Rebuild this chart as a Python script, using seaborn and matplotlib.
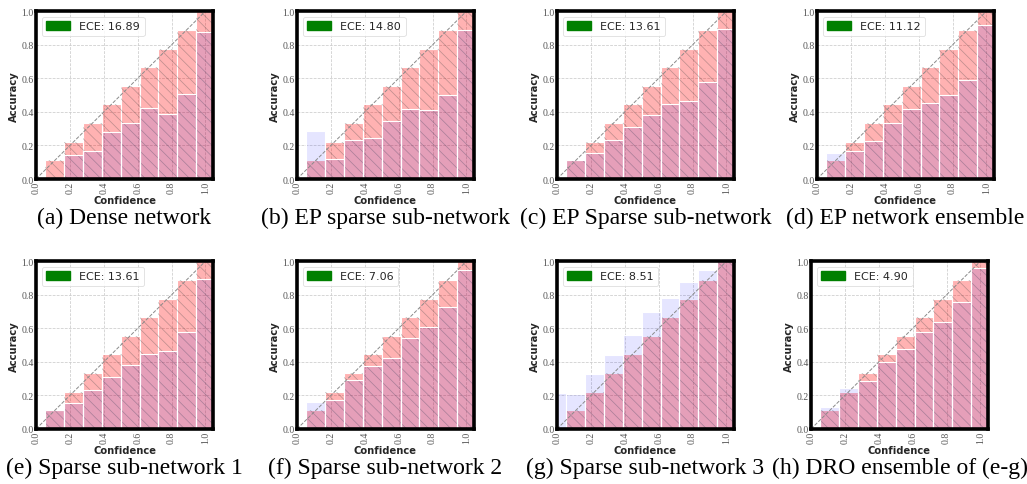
import numpy as np
import pandas as pd
import matplotlib
matplotlib.use("Agg")
import matplotlib.pyplot as plt
from matplotlib.patches import Patch
import seaborn as sns

# ---------------- data ----------------
bin_centers = [0.0, 1/9, 2/9, 3/9, 4/9, 5/9, 6/9, 7/9, 8/9, 1.0]
expected_conf = [0.0, 1/9, 2/9, 3/9, 4/9, 5/9, 6/9, 7/9, 8/9, 1.0]

acc_a = [0.0, 0.0, 0.145, 0.167, 0.282, 0.334, 0.425, 0.390, 0.507, 0.877]
acc_b = [0.0, 0.286, 0.121, 0.235, 0.245, 0.346, 0.417, 0.410, 0.500, 0.890]
acc_c = [0.0, 0.111, 0.155, 0.233, 0.310, 0.382, 0.445, 0.463, 0.578, 0.895]
acc_d = [0.0, 0.153, 0.169, 0.225, 0.336, 0.417, 0.451, 0.500, 0.590, 0.920]
acc_e = [0.0, 0.111, 0.155, 0.233, 0.310, 0.382, 0.445, 0.463, 0.578, 0.895]
acc_f = [0.0, 0.163, 0.173, 0.292, 0.376, 0.425, 0.543, 0.608, 0.728, 0.948]
acc_g = [0.213, 0.209, 0.328, 0.440, 0.559, 0.698, 0.783, 0.879, 0.950, 1.0]
acc_h = [0.0, 0.129, 0.243, 0.288, 0.398, 0.477, 0.578, 0.638, 0.759, 0.960]

ece_values = [16.89, 14.80, 13.61, 11.12, 13.61, 7.06, 8.51, 4.90]
captions = ["(a) Dense network", "(b) EP sparse sub-network",
            "(c) EP Sparse sub-network", "(d) EP network ensemble",
            "(e) Sparse sub-network 1", "(f) Sparse sub-network 2",
            "(g) Sparse sub-network 3", "(h) DRO ensemble of (e-g)"]
accuracies = [acc_a, acc_b, acc_c, acc_d, acc_e, acc_f, acc_g, acc_h]
tick_vals = [0.0, 0.2, 0.4, 0.6, 0.8, 1.0]

# ---------------- style ----------------
sns.set_theme(style="whitegrid")
plt.rcParams.update({
    "grid.color": "#cccccc",
    "grid.linestyle": "--",
    "grid.linewidth": 0.55,
    "hatch.linewidth": 0.55,
    "axes.edgecolor": "black",
})

W, H = 1027, 485
fig = plt.figure(figsize=(W / 100, H / 100), dpi=100)

lefts = [36, 297, 557, 817, 36, 297, 557, 811]
tops = [12.3] * 4 + [262.3] * 4
aw, ah = 177, 167.7

red_rgba = (1.0, 0.0, 0.0, 0.30)
blue_rgba = (0.0, 0.0, 1.0, 0.10)
hatch_rgba = (0.3, 0.3, 0.3, 0.35)


def add_bars(ax, heights, face, edge, lw, hatch=None):
    n0 = len(ax.patches)
    df = pd.DataFrame({"x": bin_centers, "y": heights})
    sns.barplot(data=df, x="x", y="y", native_scale=True, width=1.0,
                errorbar=None, saturation=1, color="red", ax=ax)
    for p in ax.patches[n0:]:
        p.set_facecolor(face)
        p.set_edgecolor(edge)
        p.set_linewidth(lw)
        if hatch:
            p.set_hatch(hatch)
        p.set_zorder(2)


for i in range(8):
    l, t = lefts[i], tops[i]
    ax = fig.add_axes([l / W, (H - t - ah) / H, aw / W, ah / H])
    add_bars(ax, expected_conf, red_rgba, "white", 0.8)
    add_bars(ax, expected_conf, "none", hatch_rgba, 0.0, hatch="\\\\\\")
    add_bars(ax, accuracies[i], blue_rgba, "white", 0.8)
    ax.plot([0, 1], [0, 1], linestyle="--", color="#8a8a8a", linewidth=0.7, zorder=3)

    ax.set_xlim(0, 1.045)
    ax.set_ylim(0, 1.0)
    ax.set_xticks(tick_vals)
    ax.set_yticks(tick_vals)
    ax.set_xticklabels([f"{v:.1f}" for v in tick_vals], rotation=90,
                       family="Liberation Serif", fontsize=7, color="#555555")
    ax.set_yticklabels([f"{v:.1f}" for v in tick_vals],
                       family="Liberation Serif", fontsize=7, color="#555555")
    ax.tick_params(axis="both", length=0, pad=1.5)
    ax.set_axisbelow(True)
    ax.grid(True)
    ax.set_xlabel("Confidence", fontsize=7.2, fontweight="bold",
                  family="DejaVu Sans", labelpad=1)
    ax.set_ylabel("Accuracy", fontsize=7.2, fontweight="bold",
                  family="DejaVu Sans", labelpad=2)
    for s in ax.spines.values():
        s.set_visible(True)
        s.set_color("black")
        s.set_linewidth(2.6)
        s.set_zorder(5)

    leg = ax.legend(handles=[Patch(facecolor="green", edgecolor="green",
                                   label=f"ECE: {ece_values[i]:.2f}")],
                    loc="upper left", handlelength=2.2,
                    handleheight=0.8, frameon=True, fancybox=True,
                    framealpha=0.85, prop={"family": "DejaVu Sans", "size": 8})
    leg.get_frame().set_edgecolor("#d9d9d9")
    leg.get_frame().set_linewidth(0.6)

    cx = (l + aw / 2) / W
    cy = (H - (218.3 if i < 4 else 468.0)) / H
    fig.text(cx, cy, captions[i], ha="center", va="center",
             family="Liberation Serif", fontsize=17, color="black")

fig.savefig("out.png", dpi=100)
